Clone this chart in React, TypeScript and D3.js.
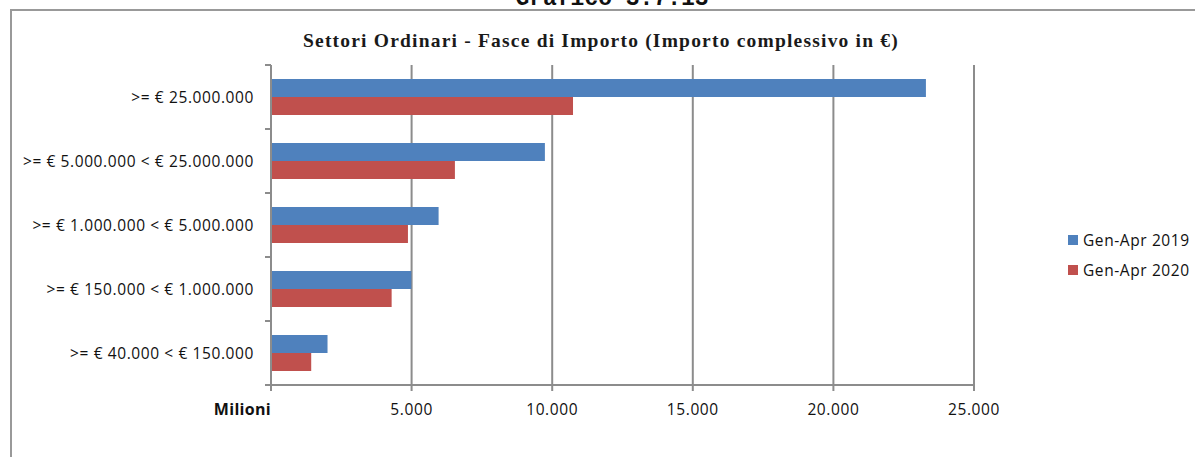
import React from "react";
import * as d3 from "d3";

const categories = [
  ">= € 25.000.000",
  ">= € 5.000.000 < € 25.000.000",
  ">= € 1.000.000 < € 5.000.000",
  ">= € 150.000 < € 1.000.000",
  ">= € 40.000 < € 150.000",
];
const series2019 = [23290, 9740, 5960, 4990, 2010];
const series2020 = [10740, 6540, 4870, 4290, 1430];
const seriesNames = ["Gen-Apr 2019", "Gen-Apr 2020"];
const seriesColors = ["#4F81BD", "#C0504D"];
const xTicks = [5000, 10000, 15000, 20000, 25000];
const title = "Settori Ordinari - Fasce di Importo (Importo complessivo in €)";
const header = "Grafico 3.7.13";
const axisUnit = "Milioni";

const W = 1195;
const H = 457;

export default function App() {
  const left = 271, right = 974, top = 65, bottom = 385;
  const x = d3.scaleLinear().domain([0, 25000]).range([left, right]);
  const y = d3.scaleBand().domain(categories).range([top, bottom]).paddingInner(0).paddingOuter(0);
  const bw = y.bandwidth();
  const barH = 18;
  const fmt = (v: number) => d3.format(",")(v).replace(/,/g, ".");
  const grid = "#8C8C8C";
  const boundaries = d3.range(categories.length + 1).map((i) => top + i * bw);
  const sers = [series2019, series2020];
  const sans = "Open Sans, sans-serif";
  const fs = 15.5;
  const ls = 0.6;

  return (
    <svg width={W} height={H} style={{ position: "absolute", left: 0, top: 0, background: "#fff" }}>
      <rect x={0} y={0} width={W} height={H} fill="#fff" />
      <text x={612} y={5} textAnchor="middle" fontFamily="Liberation Mono, monospace" fontWeight="bold" fontSize={23} fill="#111">{header}</text>
      <line x1={10} y1={10} x2={W} y2={10} stroke="#999" strokeWidth={2} />
      <line x1={11} y1={10} x2={11} y2={H} stroke="#999" strokeWidth={2} />
      <text x={601} y={47} textAnchor="middle" fontFamily="Liberation Serif, serif" fontWeight="bold" fontSize={19.5} letterSpacing={1.2} fill="#1a1a1a">{title}</text>
      {xTicks.map((t) => (
        <line key={"g" + t} x1={x(t)} x2={x(t)} y1={top} y2={bottom + 6} stroke={grid} strokeWidth={2} />
      ))}
      {categories.map((c, i) => {
        const cy = (y(c) as number) + bw / 2;
        return (
          <g key={c}>
            {sers.map((s, k) => (
              <rect key={k} x={x(0)} y={cy - barH + k * barH} width={x(s[i]) - x(0)} height={barH} fill={seriesColors[k]} />
            ))}
            <text x={254} y={cy + 5.5} textAnchor="end" fontFamily={sans} fontSize={fs} letterSpacing={ls} fill="#111">{c}</text>
          </g>
        );
      })}
      <line x1={left} x2={left} y1={top} y2={bottom} stroke={grid} strokeWidth={2} />
      {boundaries.map((b, i) => (
        <line key={"t" + i} x1={left - 6} x2={left} y1={b} y2={b} stroke={grid} strokeWidth={2} />
      ))}
      <line x1={left} x2={right} y1={bottom} y2={bottom} stroke={grid} strokeWidth={2} />
      <line x1={left} x2={left} y1={bottom} y2={bottom + 6} stroke={grid} strokeWidth={2} />
      {xTicks.map((t) => (
        <text key={"l" + t} x={x(t)} y={415} textAnchor="middle" fontFamily={sans} fontSize={fs} letterSpacing={ls} fill="#111">{fmt(t)}</text>
      ))}
      <text x={271} y={415} textAnchor="end" fontFamily={sans} fontWeight="bold" fontSize={16} letterSpacing={0.3} fill="#111">{axisUnit}</text>
      {seriesNames.map((n, k) => (
        <g key={n}>
          <rect x={1068} y={235 + k * 30} width={10} height={10} fill={seriesColors[k]} />
          <text x={1083} y={246 + k * 30} fontFamily={sans} fontSize={fs} letterSpacing={ls} fill="#111">{n}</text>
        </g>
      ))}
    </svg>
  );
}
